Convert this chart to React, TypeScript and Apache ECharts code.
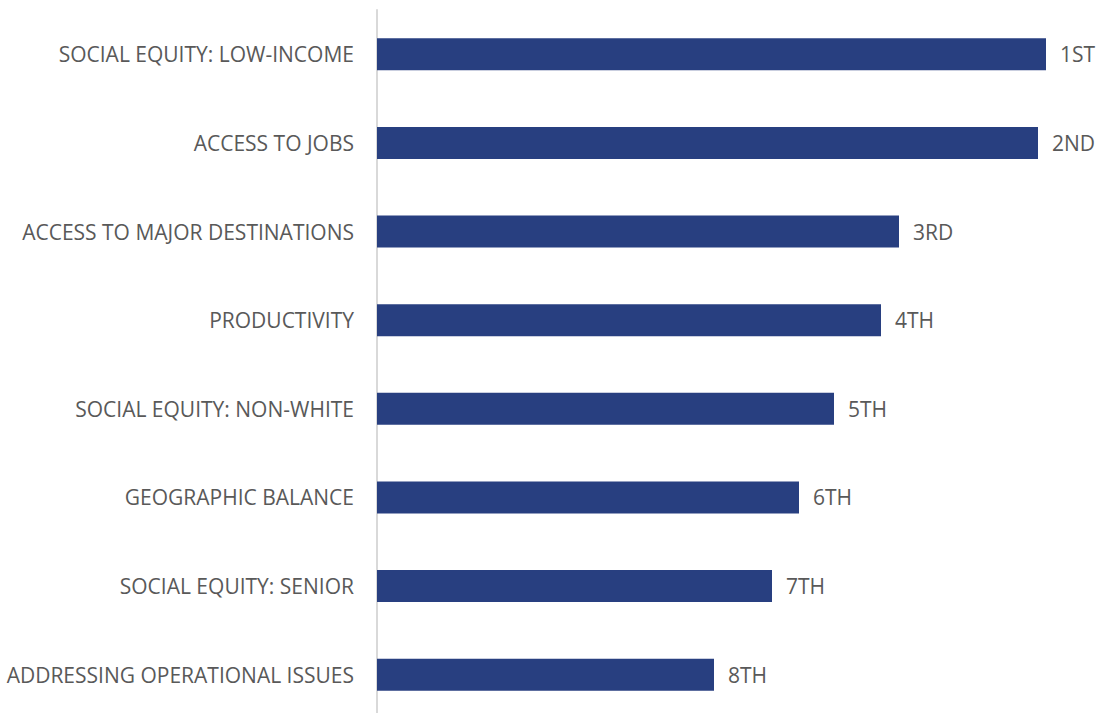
import React, { useEffect, useRef } from "react";
import * as echarts from "echarts";

const categories = [
  "SOCIAL EQUITY: LOW-INCOME",
  "ACCESS TO JOBS",
  "ACCESS TO MAJOR DESTINATIONS",
  "PRODUCTIVITY",
  "SOCIAL EQUITY: NON-WHITE",
  "GEOGRAPHIC BALANCE",
  "SOCIAL EQUITY: SENIOR",
  "ADDRESSING OPERATIONAL ISSUES",
];
const scores = [66.9, 66.1, 52.2, 50.4, 45.7, 42.2, 39.5, 33.7];
const ranks = ["1ST", "2ND", "3RD", "4TH", "5TH", "6TH", "7TH", "8TH"];

export default function App() {
  const ref = useRef<HTMLDivElement>(null);
  useEffect(() => {
    if (!ref.current) return;
    const chart = echarts.init(ref.current, null, { renderer: "svg" });
    chart.setOption({
      animation: false,
      grid: { left: 377, right: 24, top: 10, height: 709 },
      xAxis: {
        type: "value",
        min: 0,
        max: 70,
        show: false,
      },
      yAxis: {
        type: "category",
        inverse: true,
        data: categories,
        axisLine: { show: true, lineStyle: { color: "#d9d9d9", width: 2 } },
        axisTick: { show: false },
        axisLabel: {
          color: "#595959",
          fontSize: 21,
          fontFamily: "Open Sans",
          margin: 23,
        },
        splitLine: { show: false },
      },
      series: [
        {
          type: "bar",
          data: scores,
          barWidth: 32,
          itemStyle: { color: "#283f80" },
          label: {
            show: true,
            position: "right",
            distance: 14,
            color: "#595959",
            fontSize: 21,
            fontFamily: "Open Sans",
            formatter: (p: any) => ranks[p.dataIndex],
          },
        },
      ],
    });
    return () => chart.dispose();
  }, []);
  return (
    <div style={{ position: "absolute", left: 0, top: 0, width: 1101, height: 713, overflow: "hidden" }}>
      <div ref={ref} style={{ width: 1101, height: 730 }} />
    </div>
  );
}
